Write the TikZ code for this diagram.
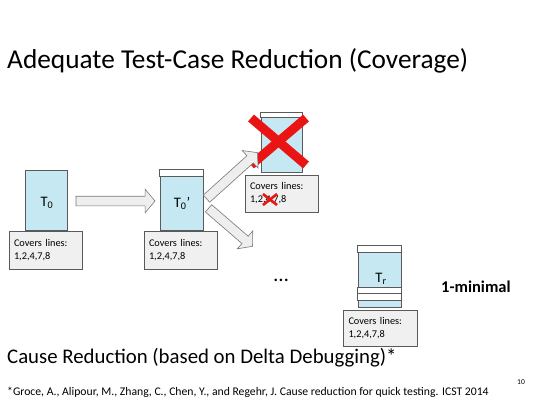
\documentclass[tikz,border=0pt]{standalone}
\usepackage{fontspec}
\setmainfont{Carlito}
\usetikzlibrary{shapes.arrows,calc}
\definecolor{tblue}{RGB}{198,232,242}
\definecolor{boxline}{RGB}{90,90,90}
\definecolor{covfill}{RGB}{240,240,240}
\definecolor{arrfill}{RGB}{238,238,238}
\definecolor{arrline}{RGB}{120,120,120}
\definecolor{xred}{RGB}{235,20,20}
\begin{document}
\begin{tikzpicture}[x=1pt,y=-1pt,
  tbox/.style={draw=boxline,fill=tblue,line width=0.8pt,minimum width=42pt,minimum height=60pt,inner sep=0pt,font=\fontsize{14.5}{14.5}\selectfont},
  tlabel/.style={font=\fontsize{14.5}{14.5}\selectfont,inner sep=0pt},
  strip/.style={draw=boxline,fill=white,line width=0.8pt},
  covbox/.style={draw=boxline,fill=covfill,line width=0.8pt,minimum width=73pt,minimum height=38pt,inner xsep=5pt,inner ysep=2pt,text width=63pt,align=left,font=\fontsize{10.3}{13}\selectfont},
  blockarrow/.style={single arrow,draw=arrline,fill=arrfill,line width=0.6pt,inner sep=0pt,text height=9pt,text depth=0pt,minimum width=0pt,single arrow head extend=7pt,single arrow tip angle=100},
  bigx/.style={draw=xred,line width=9pt},
  smallx/.style={draw=xred,line width=2.6pt}
]
\useasboundingbox (0,0) rectangle (540,405);
\fill[white] (0,0) rectangle (540,405);

% title
\node[anchor=west,inner sep=0pt,font=\fontsize{27.3}{27.3}\selectfont] (title) at (7,61) {Adequate Test-Case Reduction (Coverage)};

% T0
\node[tbox] (t0) at (46,200) {};
\node[tlabel] (t0l) at (47,203) {T\textsubscript{0}};
\node[covbox] (c0) at (45.5,250.5) {Covers lines:\\1,2,4,7,8};

% T0'
\node[tbox,minimum width=43pt] (t1) at (181.5,200) {};
\draw[strip] (t1.north west) rectangle ($(t1.north east)+(0,7)$);
\node[tlabel] (t1l) at (182,203) {T\textsubscript{0}'};
\node[covbox] (c1) at (180.5,250.5) {Covers lines:\\1,2,4,7,8};

% crossed test
\node[tbox,minimum width=41pt,minimum height=59pt] (t2) at (281.5,142.5) {};
\draw[strip] (t2.north west) rectangle ($(t2.north east)+(0,5)$);
\node[covbox,minimum height=37pt] (c2) at (281.5,193.5) {Covers lines:\\1,2,4,7,8};
\coordinate (x1a) at (251,118);
\coordinate (x1b) at (306,165);
\coordinate (x1c) at (306,118);
\coordinate (x1d) at (251,165);
\draw[bigx] (x1a) -- (x1b);
\draw[bigx] (x1c) -- (x1d);
\coordinate (x2a) at (263,194);
\coordinate (x2b) at (277,205);
\coordinate (x2c) at (277,194);
\coordinate (x2d) at (263,205);
\draw[smallx] (x2a) -- (x2b);
\draw[smallx] (x2c) -- (x2d);

% Tr
\node[tbox,minimum width=43pt,minimum height=61pt] (t3) at (379.5,276.5) {};
\draw[strip] (t3.north west) rectangle ($(t3.north east)+(0,7)$);
\draw[strip] ($(t3.south west)+(0,-20)$) rectangle ($(t3.south east)+(0,-14)$);
\draw[strip] ($(t3.south west)+(0,-14)$) rectangle ($(t3.south east)+(0,-7)$);
\node[tlabel] (t3l) at (381,279) {T\textsubscript{r}};
\node[covbox,minimum width=74pt,minimum height=36pt] (c3) at (380,328) {Covers lines:\\1,2,4,7,8};

\node[font=\fontsize{21}{21}\selectfont,inner sep=0pt] (dots) at (281,280) {\dots};
\node[font=\bfseries\fontsize{16.5}{16.5}\selectfont,anchor=west,inner sep=0pt] (min) at (441,287) {1-minimal};

% block arrows
\coordinate (a1s) at (74,201);
\coordinate (a1e) at (153,201);
\coordinate (a2s) at (205,200);
\coordinate (a2e) at (256,154);
\coordinate (a3s) at (207,207);
\coordinate (a3e) at (251,245);
\foreach \s/\e in {a1s/a1e,a2s/a2e,a3s/a3e}{
  \path let \p1=($(\e)-(\s)$), \n1={atan2(\y1,\x1)}, \n2={veclen(\x1,\y1)} in
    node[blockarrow,rotate=\n1,minimum height=\n2] at ($(\s)!0.5!(\e)$) {};
}

% bottom texts
\node[anchor=west,inner sep=0pt,font=\fontsize{20.8}{20.8}\selectfont] (cause) at (7,358) {Cause Reduction (based on Delta Debugging)*};
\node[anchor=west,inner sep=0pt,font=\fontsize{11.7}{11.7}\selectfont] (foot) at (7,392) {*Groce, A., Alipour, M., Zhang, C., Chen, Y., and Regehr, J. Cause reduction for quick testing. ICST 2014};
\node[inner sep=0pt,font=\fontsize{7.5}{7.5}\selectfont] (pg) at (521,382) {10};
\end{tikzpicture}
\end{document}
